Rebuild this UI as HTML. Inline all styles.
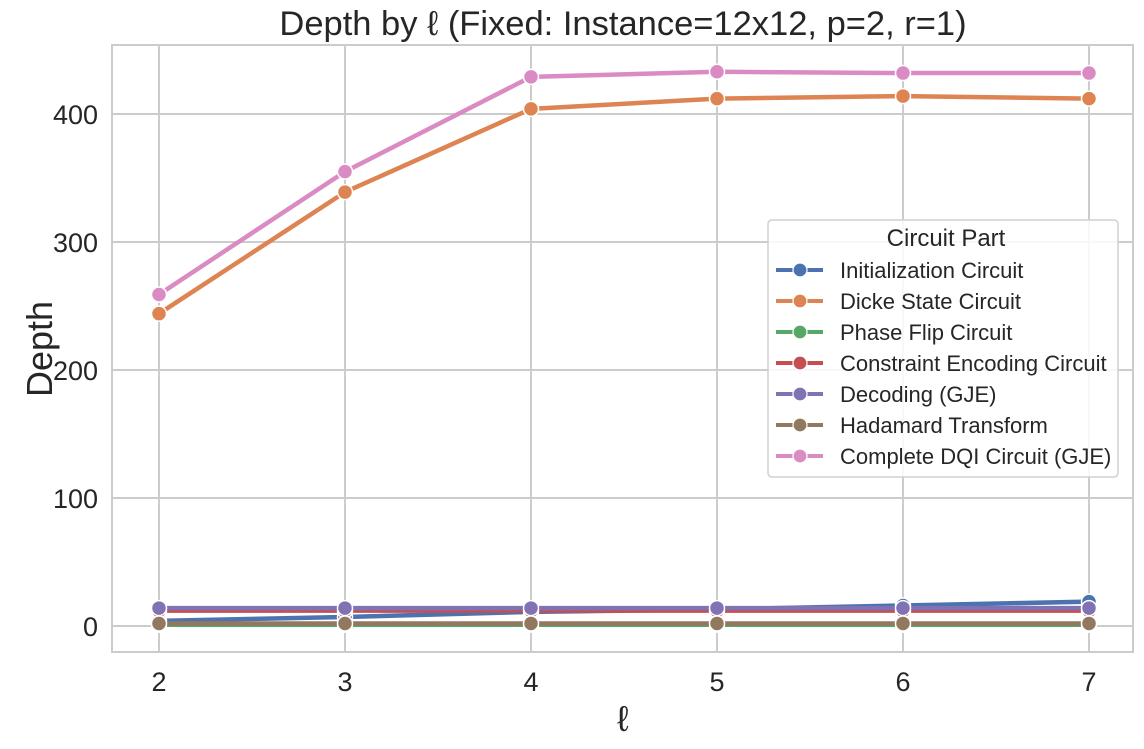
<!DOCTYPE html>
<html><head><meta charset="utf-8"><style>
body{margin:0;background:#fff;}
svg{font-family:"Liberation Sans",Arial,sans-serif;}
</style></head><body>
<svg id="chart" width="1144" height="744" viewBox="0 0 1144 744">
<g id="grid"></g>
<rect x="112" y="45" width="1021" height="607" fill="none" stroke="#cccccc" stroke-width="2"/>
<g id="series"></g>
<text x="623" y="35" text-anchor="middle" font-size="34.5" fill="#262626">Depth by ℓ (Fixed: Instance=12x12, p=2, r=1)</text>
<text x="623" y="731" text-anchor="middle" font-size="36" fill="#262626">ℓ</text>
<text transform="translate(52,349) rotate(-90)" text-anchor="middle" font-size="36" fill="#262626">Depth</text>
<g id="legend">
<rect x="768" y="220" width="350" height="257" rx="4" fill="#fff" fill-opacity="0.85" stroke="#d0d0d0" stroke-width="1.5"/>
<text x="946" y="246" text-anchor="middle" font-size="24" fill="#262626">Circuit Part</text>
</g>
</svg>
<script>
const xCats=[2,3,4,5,6,7];
const yTicks=[0,100,200,300,400];
const names=["Initialization Circuit","Dicke State Circuit","Phase Flip Circuit","Constraint Encoding Circuit","Decoding (GJE)","Hadamard Transform","Complete DQI Circuit (GJE)"];
const colors=["#4c72b0","#dd8452","#55a868","#c44e52","#8172b3","#937860","#da8bc3"];
const sInit=[4,7,11,13,16,19];
const sDicke=[244,339,404,412,414,412];
const sPhase=[1,1,1,1,1,1];
const sConstraint=[12,12,12,12,12,12];
const sDecoding=[14,14,14,14,14,14];
const sHadamard=[2,2,2,2,2,2];
const sComplete=[259,355,429,433,432,432];
const seriesData=[sInit,sDicke,sPhase,sConstraint,sDecoding,sHadamard,sComplete];
const NS="http://www.w3.org/2000/svg";
function xs(v){return 159+(v-2)*186;}
function ys(v){return 626-v*1.28;}
function mk(t,a,p){const e=document.createElementNS(NS,t);for(const k in a)e.setAttribute(k,a[k]);p.appendChild(e);return e;}
const grid=document.getElementById('grid'),svg=document.getElementById('chart');
xCats.forEach(v=>{
 const l=mk('line',{x1:xs(v),x2:xs(v),y1:45,y2:652,stroke:'#cccccc','stroke-width':2},grid);
 
 
 const t=mk('text',{x:xs(v),y:691,'text-anchor':'middle','font-size':27,fill:'#262626'},svg);
 t.textContent=v;
 
 
});
yTicks.forEach(v=>{
 const l=mk('line',{x1:112,x2:1133,y1:ys(v),y2:ys(v),stroke:'#cccccc','stroke-width':2},grid);
 
 
 const t=mk('text',{x:98,y:ys(v)+10,'text-anchor':'end','font-size':27,fill:'#262626'},svg);
 t.textContent=v;
 
 
});
const sg=document.getElementById('series');
seriesData.forEach((d,i)=>{
 const g=mk('g',{},sg);
 
 
 mk('polyline',{points:d.map((v,j)=>xs(xCats[j])+','+ys(v)).join(' '),fill:'none',stroke:colors[i],'stroke-width':4.5,'stroke-linejoin':'round'},g);
 d.forEach((v,j)=>{
  const c=mk('circle',{cx:xs(xCats[j]),cy:ys(v),r:7.5,fill:colors[i],stroke:'#fff','stroke-width':1.5},g);
  
  
 });
});
const lg=document.getElementById('legend');
names.forEach((n,i)=>{
 const y=270+i*31;
 const g=mk('g',{},lg);
 
 
 mk('line',{x1:776,x2:823,y1:y,y2:y,stroke:colors[i],'stroke-width':4},g);
 mk('circle',{cx:800,cy:y,r:7,fill:colors[i],stroke:'#fff','stroke-width':1.2},g);
 const t=mk('text',{x:840,y:y+8,'font-size':22,fill:'#262626'},g);
 t.textContent=n;
});
</script>
</body></html>
